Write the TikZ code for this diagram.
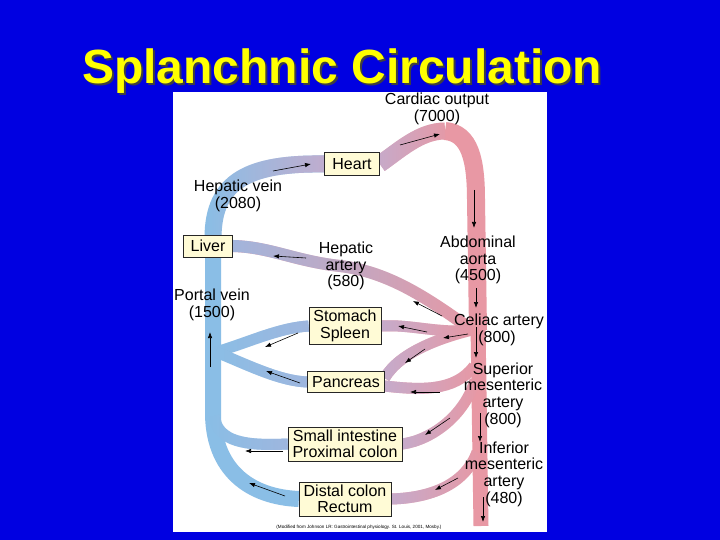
\documentclass[tikz,border=0pt]{standalone}
\usepackage{fontspec}
\setmainfont{Liberation Sans}
\usetikzlibrary{arrows.meta,fadings}

\definecolor{slideblue}{RGB}{0,0,225}
\definecolor{veinblue}{RGB}{138,190,230}
\definecolor{artpink}{RGB}{232,152,164}
\definecolor{mauve}{RGB}{196,172,205}
\definecolor{lavblue}{RGB}{160,182,222}
\definecolor{boxfill}{RGB}{255,251,214}
\definecolor{titleyellow}{RGB}{255,255,0}

\tikzfading[name=fadeleft, left color=transparent!100, right color=transparent!0]
\tikzfading[name=faderight, left color=transparent!0, right color=transparent!100]

\pgfdeclarelayer{back}
\pgfdeclarelayer{bands}
\pgfsetlayers{back,bands,main}

\begin{document}
\begin{tikzpicture}[x=1pt,y=-1pt,
	organ/.style={draw=black!85, line width=0.6pt, fill=boxfill, align=center,
		inner xsep=4.5pt, inner ysep=3pt, font=\fontsize{16}{16.5}\selectfont},
	lbl/.style={align=center, inner sep=0pt, font=\fontsize{16}{16.7}\selectfont},
	headline/.style={anchor=base west, inner sep=0pt, font=\fontsize{48}{50}\selectfont\bfseries},
	vein/.style={draw=veinblue, line width=#1}, vein/.default=11,
	artery/.style={draw=artpink, line width=#1}, artery/.default=11,
	flow/.style={-{Latex[length=6pt,width=4.4pt]}, line width=0.6pt}]
	\useasboundingbox (0,0) rectangle (720,540);
	
	% slide and panel
	\begin{pgfonlayer}{back}
		\fill[slideblue] (0,0) rectangle (720,540);
		\fill[white] (173,92) rectangle (547,532);
	\end{pgfonlayer}
	
	\node[headline, text=black!75] (titleshadow) at (84,86) {Splanchnic Circulation};
	\node[headline, text=titleyellow] (title) at (82,84) {Splanchnic Circulation};
	
	% organs
	\node[organ, minimum width=55pt, minimum height=23pt] (heart) at (352,164) {Heart};
	\node[organ, minimum width=49pt, minimum height=22pt] (liver) at (208,246) {Liver};
	\node[organ] (stomach) at (345,326) {Stomach\\Spleen};
	\node[organ, minimum height=21pt] (pancreas) at (346,382) {Pancreas};
	\node[organ] (smallint) at (345,444) {Small intestine\\Proximal colon};
	\node[organ] (distal) at (345,499) {Distal colon\\Rectum};
	
	% labels
	\node[lbl] (cardiac) at (437,109) {Cardiac output\\(7000)};
	\node[lbl] (hepvein) at (238,196) {Hepatic vein\\(2080)};
	\node[lbl] (hepart) at (346,266) {Hepatic\\artery\\(580)};
	\node[lbl] (abdaorta) at (478,260) {Abdominal\\aorta\\(4500)};
	\node[lbl] (portal) at (212,305) {Portal vein\\(1500)};
	\node[lbl] (celiac) at (499,321) {Celiac artery};
	\node[lbl] (celiacflow) at (497,338) {(800)};
	\node[lbl] (sma) at (503,395) {Superior\\mesenteric\\artery\\(800)};
	\node[lbl] (ima) at (504,474) {Inferior\\mesenteric\\artery\\(480)};
	\node[lbl, font=\fontsize{4.6}{5}\selectfont] (source) at (359,527) {(Modified from Johnson LR: Gastrointestinal physiology. St. Louis, 2001, Mosby.)};
	
	\coordinate (hv) at (213,238);
	\coordinate (pj) at (216,352);
	\coordinate (sj) at (214,416);
	\coordinate (top) at (445,131);
	\coordinate (cj) at (472,330);
	\coordinate (smj) at (474,366);
	\coordinate (smk) at (475,380);
	\coordinate (imj) at (477,452);
	
	\begin{pgfonlayer}{bands}
		% veins
		\draw[vein=16] (hv) -- (213,410) .. controls (212,470) and (250,497) .. (distal.west);
		\draw[vein=17, postaction={draw=mauve, path fading=fadeleft}] (heart.west) .. controls (250,163) and (213,180) .. (hv);
		\draw[vein, postaction={draw=lavblue, path fading=fadeleft}] (pj) .. controls (250,342) and (278,328) .. (stomach.west);
		\draw[vein, postaction={draw=lavblue, path fading=fadeleft}] (pj) .. controls (250,366) and (280,381) .. (pancreas.west);
		\draw[vein, postaction={draw=lavblue, path fading=fadeleft}] (sj) .. controls (218,442) and (245,446) .. (smallint.west);
		% arteries
		\draw[artery=18] (top) .. controls (470,133) and (476,160) .. (476,200) -- (478,330);
		\draw[artery=15] (478,325) -- (481,526);
		\draw[artery=17, postaction={draw=mauve, path fading=faderight}] (heart.east) .. controls (400,150) and (420,131) .. (top);
		\draw[artery=12, postaction={draw=lavblue, path fading=faderight}] (cj) .. controls (430,300) and (390,272) .. (340,266) .. controls (295,261) and (270,247) .. (liver.east);
		\draw[artery, postaction={draw=mauve, path fading=faderight}] (cj) .. controls (440,334) and (410,324) .. (stomach.east);
		\draw[artery, postaction={draw=mauve, path fading=faderight}] (cj) .. controls (440,338) and (400,352) .. ([yshift=4pt]pancreas.east);
		\draw[artery, postaction={draw=mauve, path fading=faderight}] (smj) .. controls (455,392) and (420,390) .. ([yshift=-4pt]pancreas.east);
		\draw[artery, postaction={draw=mauve, path fading=faderight}] (smk) .. controls (465,415) and (432,440) .. (smallint.east);
		\draw[artery, postaction={draw=mauve, path fading=faderight}] (imj) .. controls (465,485) and (430,498) .. (distal.east);
	\end{pgfonlayer}
	
	% flow arrows
	\draw[flow] (273,171) -- (311,164);
	\draw[flow] (400,145) -- (440,134);
	\draw[flow] (474,190) -- (474,228);
	\draw[flow] (476,288) -- (476,308);
	\draw[flow] (476,327) -- (476,358);
	\draw[flow] (442,316) -- (413,301);
	\draw[flow] (306,258) -- (273,256);
	\draw[flow] (427,332) -- (398,326);
	\draw[flow] (468,334) -- (443,338);
	\draw[flow] (425,349) -- (405,363);
	\draw[flow] (210,367) -- (210,332);
	\draw[flow] (298,333) -- (265,347);
	\draw[flow] (300,383) -- (266,371);
	\draw[flow] (283,451) -- (245,451);
	\draw[flow] (285,496) -- (249,483);
	\draw[flow] (440,392) -- (410,392);
	\draw[flow] (450,418) -- (425,435);
	\draw[flow] (480,413) -- (480,442);
	\draw[flow] (458,478) -- (435,490);
	\draw[flow] (483,497) -- (483,522);
\end{tikzpicture}
\end{document}
